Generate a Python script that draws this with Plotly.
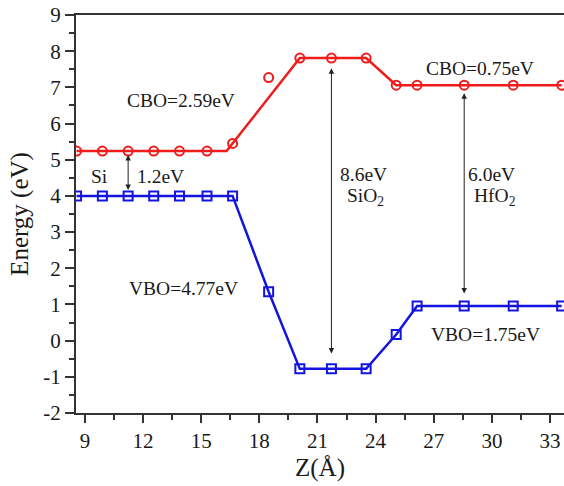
import plotly.graph_objects as go

# Conduction band (CBO) points
z_cb = [8.57, 9.9, 11.23, 12.55, 13.88, 15.3, 16.62, 18.48, 20.09, 21.72, 23.51, 25.06, 26.14, 28.57, 31.1, 33.6]
e_cb = [5.24, 5.24, 5.24, 5.24, 5.24, 5.24, 5.45, 7.27, 7.81, 7.81, 7.81, 7.06, 7.06, 7.06, 7.06, 7.06]
# Conduction band guide line
z_cb_line = [8.57, 15.3, 16.31, 20.09, 21.72, 23.51, 25.06, 26.14, 28.57, 31.1, 33.6]
e_cb_line = [5.24, 5.24, 5.24, 7.81, 7.81, 7.81, 7.06, 7.06, 7.06, 7.06, 7.06]

# Valence band (VBO) points
z_vb = [8.57, 9.9, 11.23, 12.55, 13.88, 15.3, 16.62, 18.48, 20.09, 21.72, 23.51, 25.06, 26.14, 28.57, 31.1, 33.6]
e_vb = [4.0, 4.0, 4.0, 4.0, 4.0, 4.0, 4.0, 1.35, -0.78, -0.78, -0.78, 0.17, 0.96, 0.96, 0.96, 0.96]

# Gap arrows: x, top energy, bottom energy
arrow_z = [11.23, 21.72, 28.57]
arrow_top = [5.13, 7.53, 6.84]
arrow_bot = [4.12, -0.40, 1.26]

# Text labels
label_text = ["CBO=2.59eV", "Si", "1.2eV", "8.6eV", "SiO<sub>2</sub>", "6.0eV", "HfO<sub>2</sub>",
              "CBO=0.75eV", "VBO=4.77eV", "VBO=1.75eV"]
label_z = [13.94, 9.77, 12.9, 23.40, 23.48, 29.99, 30.17, 29.4, 14.1, 29.69]
label_e = [6.65, 4.53, 4.53, 4.58, 3.98, 4.58, 3.98, 7.53, 1.45, 0.18]

x_ticks = [9, 12, 15, 18, 21, 24, 27, 30, 33]
y_ticks = [-2, -1, 0, 1, 2, 3, 4, 5, 6, 7, 8, 9]

RED = "#f01c1c"
BLUE = "#1414e0"
FONT = "Liberation Serif"
TXT = "#1a1a1a"

fig = go.Figure()
fig.add_trace(go.Scatter(x=z_cb_line, y=e_cb_line, mode="lines",
                         line=dict(color=RED, width=2.5), showlegend=False))
fig.add_trace(go.Scatter(x=z_cb, y=e_cb, mode="markers",
                         marker=dict(symbol="circle-open", size=9, color=RED, line=dict(width=2, color=RED)),
                         showlegend=False))
fig.add_trace(go.Scatter(x=z_vb, y=e_vb, mode="lines+markers",
                         line=dict(color=BLUE, width=2.5),
                         marker=dict(symbol="square-open", size=9, color=BLUE, line=dict(width=2, color=BLUE)),
                         showlegend=False))

anns = []
for z, t, b in zip(arrow_z, arrow_top, arrow_bot):
    anns.append(dict(x=z, y=t, ax=z, ay=b, xref="x", yref="y", axref="x", ayref="y",
                     text="", showarrow=True, arrowhead=2, arrowside="end+start",
                     arrowsize=1.1, arrowwidth=1, arrowcolor="#222", standoff=0, startstandoff=0))
for txt, z, e in zip(label_text, label_z, label_e):
    anns.append(dict(x=z, y=e, xref="x", yref="y", text=txt, showarrow=False,
                     xanchor="center", yanchor="middle",
                     font=dict(family=FONT, size=19.5, color=TXT)))

fig.update_layout(
    width=564, height=486,
    margin=dict(l=76, r=0, t=15, b=73),
    paper_bgcolor="white", plot_bgcolor="white",
    font=dict(family=FONT, color=TXT),
    annotations=anns,
    showlegend=False,
)
fig.update_xaxes(
    range=[8.54, 33.72], tickvals=x_ticks, ticktext=[str(v) for v in x_ticks],
    ticks="outside", ticklen=8, tickwidth=1.5, tickcolor="#333",
    minor=dict(dtick=1.5, tick0=9, ticks="outside", ticklen=5, tickwidth=1.5, tickcolor="#333"),
    showline=True, linecolor="#333", linewidth=2, mirror=True,
    showgrid=False, zeroline=False,
    tickfont=dict(family=FONT, size=21, color=TXT),
    title=dict(text="Z(Å)", font=dict(family=FONT, size=25, color=TXT), standoff=6),
    automargin=False,
)
fig.update_yaxes(
    range=[-2, 9], tickvals=y_ticks, ticktext=[str(v) for v in y_ticks],
    ticks="outside", ticklen=9, tickwidth=1.5, tickcolor="#333",
    minor=dict(dtick=0.5, tick0=0, ticks="outside", ticklen=5, tickwidth=1.5, tickcolor="#333"),
    showline=True, linecolor="#333", linewidth=2, mirror=False,
    showgrid=False, zeroline=False,
    tickfont=dict(family=FONT, size=21, color=TXT),
    title=dict(text="Energy (eV)", font=dict(family=FONT, size=25, color=TXT), standoff=8),
    automargin=False,
)

fig.write_html("out.html")
